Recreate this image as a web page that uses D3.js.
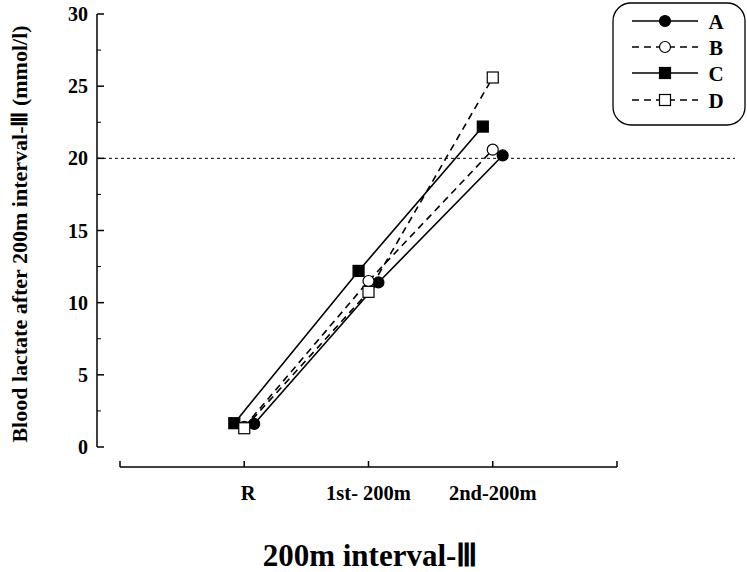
<!DOCTYPE html>
<html>
<head>
<script src="https://d3js.org/d3.v7.min.js"></script>
<style>
body{margin:0;background:#fff;}
svg text{font-family:"Liberation Serif","Times New Roman",serif;font-weight:bold;fill:#000;}
</style>
</head>
<body>
<div id="chart"></div>
<script>
// values
var categories = ["R", "1st- 200m", "2nd-200m"];
var seriesNames = ["A", "B", "C", "D"];
var valuesA = [1.6, 11.4, 20.2];
var valuesB = [1.4, 11.5, 20.6];
var valuesC = [1.65, 12.2, 22.2];
var valuesD = [1.3, 10.75, 25.6];
var yTicks = [0, 5, 10, 15, 20, 25, 30];
var refLine = 20;

var series = [
  {name: "A", values: valuesA, dash: null, shape: "circle", fill: "#000", shift: 0.08},
  {name: "B", values: valuesB, dash: "7,5", shape: "circle", fill: "#fff", shift: 0},
  {name: "C", values: valuesC, dash: null, shape: "square", fill: "#000", shift: -0.08},
  {name: "D", values: valuesD, dash: "7,5", shape: "square", fill: "#fff", shift: 0}
];

var svg = d3.select("#chart").append("svg")
  .attr("width", 747).attr("height", 572);

var x = d3.scaleLinear().domain([0, 4]).range([120, 617]);
var y = d3.scaleLinear().domain([0, 30]).range([447, 14]);

// y axis
var yAxis = svg.append("g");
yAxis.append("line").attr("x1", 97).attr("x2", 97).attr("y1", y(30)).attr("y2", y(0))
  .attr("stroke", "#000").attr("stroke-width", 1.5);
yAxis.selectAll("line.major").data(yTicks).enter().append("line").attr("class", "major")
  .attr("x1", 97).attr("x2", 104).attr("y1", d => y(d)).attr("y2", d => y(d))
  .attr("stroke", "#000").attr("stroke-width", 1.5);
yAxis.selectAll("line.minor").data(d3.range(2.5, 30, 5)).enter().append("line").attr("class", "minor")
  .attr("x1", 97).attr("x2", 101).attr("y1", d => y(d)).attr("y2", d => y(d))
  .attr("stroke", "#000").attr("stroke-width", 1);
yAxis.selectAll("text").data(yTicks).enter().append("text")
  .attr("x", 88).attr("y", d => y(d) + 7).attr("text-anchor", "end")
  .style("font-size", "20px").text(d => d);

svg.append("text")
  .attr("transform", "translate(27,234) rotate(-90)")
  .attr("text-anchor", "middle").style("font-size", "22px")
  .text("Blood lactate after 200m interval-\u2162 (mmol/l)");

// x axis
var xAxis = svg.append("g");
xAxis.append("line").attr("x1", x(0)).attr("x2", x(4)).attr("y1", 467).attr("y2", 467)
  .attr("stroke", "#000").attr("stroke-width", 1.5);
xAxis.selectAll("line.tick").data([0, 1, 2, 3, 4]).enter().append("line").attr("class", "tick")
  .attr("x1", d => x(d)).attr("x2", d => x(d)).attr("y1", 467).attr("y2", 461)
  .attr("stroke", "#000").attr("stroke-width", 1.5);
xAxis.selectAll("text").data(categories).enter().append("text")
  .attr("x", (d, i) => x(i + 1) + (i == 0 ? 4 : 0)).attr("y", 500).attr("text-anchor", "middle")
  .style("font-size", "20.5px").text(d => d);

svg.append("text").attr("x", 370).attr("y", 566).attr("text-anchor", "middle")
  .style("font-size", "31px").text("200m interval-\u2162");

// reference line at 20
svg.append("line").attr("x1", 97).attr("x2", 735).attr("y1", y(refLine)).attr("y2", y(refLine))
  .attr("stroke", "#000").attr("stroke-width", 1).attr("stroke-dasharray", "3,3");

// series lines
var line = d3.line().x(d => x(d[0])).y(d => y(d[1]));
series.forEach(function(s) {
  var pts = s.values.map((v, i) => [i + 1 + s.shift, v]);
  svg.append("path").attr("d", line(pts)).attr("fill", "none")
    .attr("stroke", "#000").attr("stroke-width", 1.6)
    .attr("stroke-dasharray", s.dash);
});

function drawMarker(g, s, cx, cy) {
  if (s.shape == "circle") {
    g.append("circle").attr("cx", cx).attr("cy", cy).attr("r", 5.5)
      .attr("fill", s.fill).attr("stroke", "#000").attr("stroke-width", 1.2);
  } else {
    g.append("rect").attr("x", cx - 5.5).attr("y", cy - 5.5).attr("width", 11).attr("height", 11)
      .attr("fill", s.fill).attr("stroke", "#000").attr("stroke-width", 1.2);
  }
}

// markers: draw filled ones first, open ones on top like the figure
["C", "A", "B", "D"].forEach(function(n) {
  var s = series.find(d => d.name == n);
  s.values.forEach(function(v, i) {
    drawMarker(svg, s, x(i + 1 + s.shift), y(v));
  });
});

// legend
var leg = svg.append("g");
leg.append("rect").attr("x", 613).attr("y", 3).attr("width", 132).attr("height", 122)
  .attr("rx", 18).attr("fill", "#fff").attr("stroke", "#000").attr("stroke-width", 1.3);
var legY = [21, 47, 73, 100];
series.forEach(function(s, i) {
  leg.append("line").attr("x1", 632).attr("x2", 698).attr("y1", legY[i]).attr("y2", legY[i])
    .attr("stroke", "#000").attr("stroke-width", 1.6).attr("stroke-dasharray", s.dash);
  drawMarker(leg, s, 665, legY[i]);
  leg.append("text").attr("x", 716).attr("y", legY[i] + 8).attr("text-anchor", "middle")
    .style("font-size", "21px").text(s.name);
});
</script>
</body>
</html>
